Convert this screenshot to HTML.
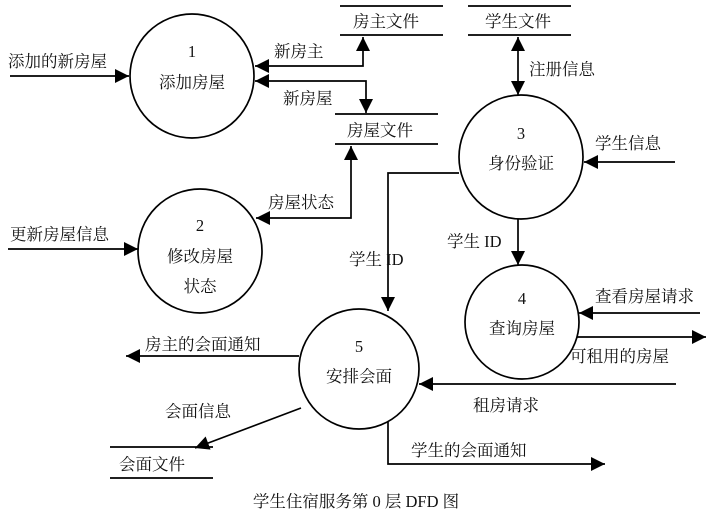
<!DOCTYPE html>
<html><head><meta charset="utf-8"><style>
html,body{margin:0;padding:0;background:#fff;}
svg{display:block;}
text{font-family:"Liberation Serif","Noto Serif CJK SC",serif;font-size:16.5px;fill:#111;}
</style></head><body>
<svg width="713" height="521" viewBox="0 0 713 521" xmlns="http://www.w3.org/2000/svg">
<defs>
<marker id="a" viewBox="0 0 10 10" refX="10" refY="5" markerWidth="15" markerHeight="14" markerUnits="userSpaceOnUse" orient="auto-start-reverse">
<path d="M0,0 L10,5 L0,10 z" fill="#000"/></marker>
</defs>
<g stroke="#000" stroke-width="1.7" fill="none">
<circle cx="192" cy="76" r="62"/>
<circle cx="200" cy="251" r="62"/>
<circle cx="521" cy="157" r="62"/>
<circle cx="522" cy="322" r="57"/>
<circle cx="359" cy="369" r="60"/>
<line x1="340" y1="6" x2="443" y2="6"/><line x1="340" y1="35" x2="443" y2="35"/>
<line x1="468" y1="6" x2="571" y2="6"/><line x1="468" y1="35" x2="571" y2="35"/>
<line x1="335" y1="114" x2="438" y2="114"/><line x1="335" y1="144" x2="438" y2="144"/>
<line x1="110" y1="447" x2="213" y2="447"/><line x1="110" y1="478" x2="213" y2="478"/>
<line x1="10" y1="76" x2="129" y2="76" marker-end="url(#a)"/>
<polyline points="363,37 363,66 255,66" marker-start="url(#a)" marker-end="url(#a)"/>
<polyline points="255,81 366,81 366,113" marker-start="url(#a)" marker-end="url(#a)"/>
<polyline points="351,146 351,218 256,218" marker-start="url(#a)" marker-end="url(#a)"/>
<line x1="8" y1="249" x2="138" y2="249" marker-end="url(#a)"/>
<line x1="518" y1="37" x2="518" y2="95" marker-start="url(#a)" marker-end="url(#a)"/>
<line x1="675" y1="162" x2="584" y2="162" marker-end="url(#a)"/>
<line x1="518" y1="219" x2="518" y2="265" marker-end="url(#a)"/>
<polyline points="459,173 388,173 388,311" marker-end="url(#a)"/>
<line x1="700" y1="313" x2="579" y2="313" marker-end="url(#a)"/>
<line x1="577" y1="337" x2="706" y2="337" marker-end="url(#a)"/>
<line x1="299" y1="356" x2="126" y2="356" marker-end="url(#a)"/>
<line x1="301" y1="408" x2="195" y2="448" marker-end="url(#a)"/>
<line x1="676" y1="384" x2="419" y2="384" marker-end="url(#a)"/>
<polyline points="388,422 388,464 605,464" marker-end="url(#a)"/>
</g>
<g text-anchor="middle">
<text x="192" y="57">1</text><text x="192" y="88">添加房屋</text>
<text x="200" y="231">2</text><text x="200" y="262">修改房屋</text><text x="200" y="292">状态</text>
<text x="521" y="139">3</text><text x="521" y="169">身份验证</text>
<text x="522" y="304">4</text><text x="522" y="334">查询房屋</text>
<text x="359" y="352">5</text><text x="359" y="382">安排会面</text>
<text x="386" y="27">房主文件</text>
<text x="518" y="27">学生文件</text>
<text x="380" y="136">房屋文件</text>
<text x="152" y="470">会面文件</text>
<text x="356" y="507">学生住宿服务第 0 层 DFD 图</text>
</g>
<text x="8" y="67">添加的新房屋</text>
<text x="274" y="57">新房主</text>
<text x="283" y="104">新房屋</text>
<text x="268" y="208">房屋状态</text>
<text x="10" y="240">更新房屋信息</text>
<text x="529" y="75">注册信息</text>
<text x="595" y="149">学生信息</text>
<text x="447" y="247">学生 ID</text>
<text x="349" y="265">学生 ID</text>
<text x="595" y="302">查看房屋请求</text>
<text x="570" y="362">可租用的房屋</text>
<text x="145" y="350">房主的会面通知</text>
<text x="165" y="417">会面信息</text>
<text x="473" y="411">租房请求</text>
<text x="411" y="456">学生的会面通知</text>
</svg>
</body></html>
